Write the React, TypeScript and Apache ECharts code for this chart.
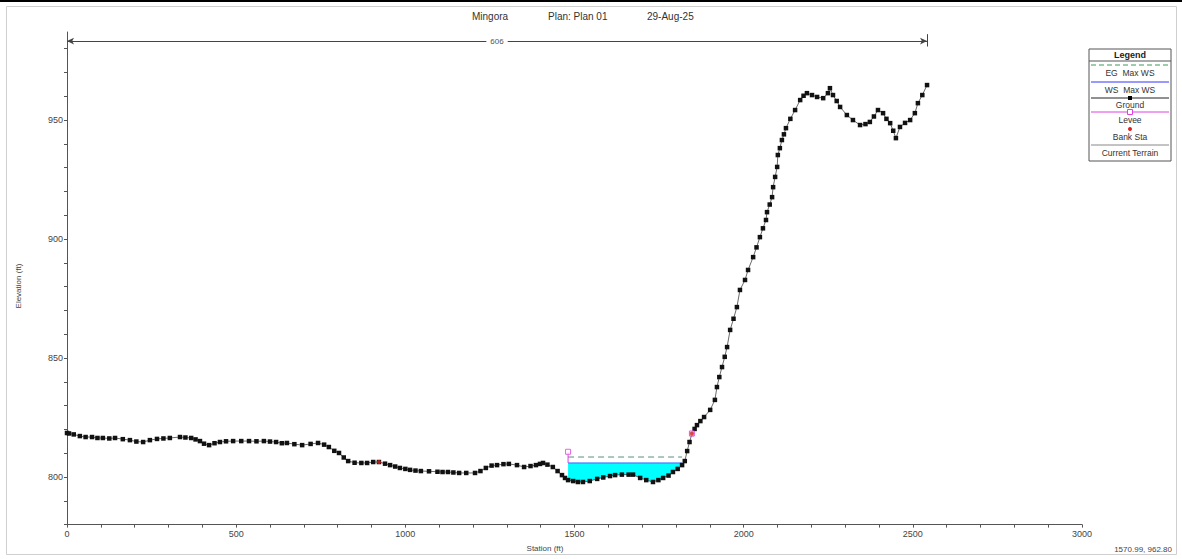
import React, { useEffect, useRef } from "react";
import * as echarts from "echarts";

// ---- data ----
const groundStation = [
  0, 6, 20, 38, 55, 74, 90, 106, 125, 142, 165, 186, 205, 225, 245, 266, 285, 304, 334, 350,
  367, 380, 393, 405, 420, 436, 452, 470, 491, 515, 538, 560, 582, 600, 618, 635, 650, 672, 695, 720,
  742, 760, 774, 790, 804, 818, 831, 850, 870, 887, 905, 922, 940, 955, 970, 984, 1000, 1014, 1030, 1046,
  1070, 1095, 1110, 1126, 1142, 1159, 1180, 1206, 1222, 1238, 1255, 1271, 1290, 1306, 1330, 1351, 1370, 1386, 1398, 1407,
  1420, 1436, 1450, 1463, 1472, 1481, 1496, 1510, 1525, 1545, 1567, 1585, 1605, 1620, 1640, 1660, 1673, 1694, 1712, 1732,
  1748, 1762, 1778, 1791, 1805, 1818, 1826, 1833, 1840, 1847, 1855, 1862, 1872, 1883, 1901, 1915, 1921, 1928, 1936, 1944,
  1951, 1960, 1970, 1980, 1989, 2004, 2013, 2028, 2038, 2048, 2057, 2066, 2069, 2077, 2084, 2087, 2093, 2099, 2101, 2107,
  2113, 2119, 2125, 2138, 2152, 2167, 2177, 2187, 2202, 2217, 2235, 2249, 2255, 2264, 2275, 2285, 2305, 2323, 2344, 2360,
  2373, 2385, 2397, 2412, 2422, 2433, 2442, 2450, 2462, 2477, 2492, 2506, 2515, 2528, 2542,
];
const groundElev = [
  818.5, 818.3, 817.9, 817.2, 816.8, 816.8, 816.4, 816.4, 816.2, 816.4, 815.9, 815.5, 814.9, 814.7, 815.5, 816.0, 816.2, 816.4, 816.8, 816.6,
  816.4, 815.8, 815.1, 814.0, 813.4, 814.2, 814.7, 815.0, 815.1, 815.1, 815.1, 815.0, 815.1, 814.9, 814.7, 814.2, 814.3, 813.8, 813.4, 813.9,
  814.3, 813.6, 812.6, 811.0, 810.1, 808.2, 806.7, 806.0, 805.9, 805.9, 806.3, 806.3, 805.6, 805.0, 804.4, 803.8, 803.4, 803.0, 802.7, 802.5,
  802.4, 802.2, 802.1, 802.1, 801.9, 801.7, 801.7, 801.7, 802.5, 803.8, 804.8, 805.0, 805.4, 805.5, 805.0, 804.2, 804.6, 805.0, 805.5, 805.9,
  805.2, 804.2, 802.5, 800.8, 799.6, 798.7, 798.3, 797.9, 797.9, 798.3, 799.2, 799.8, 800.4, 800.8, 801.0, 801.0, 801.0, 799.6, 798.7, 797.9,
  798.7, 799.6, 800.6, 802.1, 803.4, 805.0, 806.7, 810.9, 814.7, 818.1, 820.2, 821.8, 823.5, 825.2, 828.2, 832.4, 837.8, 842.0, 846.2, 850.5,
  854.6, 861.8, 866.5, 871.4, 878.6, 882.8, 887.0, 892.4, 896.5, 900.8, 904.5, 908.0, 911.3, 914.5, 917.6, 921.8, 926.1, 930.3, 935.3, 938.2,
  941.6, 944.0, 946.6, 950.5, 954.2, 958.4, 960.2, 961.3, 960.5, 959.7, 959.2, 961.3, 963.4, 960.5, 958.0, 955.5, 952.1, 950.0, 947.9, 948.3,
  949.2, 951.5, 954.2, 952.9, 950.5, 948.7, 945.5, 942.4, 947.1, 948.8, 950.0, 952.9, 957.1, 960.5, 964.7,
];

const wsElev = 805.9; // WS Max WS
const egElev = 808.4; // EG Max WS
const wsStart = 1481;
const wsEnd = 1818;
const leveeStation = [1481, 1847];
const leveeElev = [810.6, 818.3];
const bankStation = [922, 1847];
const bankElev = [806.3, 818.3];
const xTicks = [0, 500, 1000, 1500, 2000, 2500, 3000];
const yLabelValues = [800, 850, 900, 950];
const yTickValues = [780, 790, 800, 810, 820, 830, 840, 850, 860, 870, 880, 890, 900, 910, 920, 930, 940, 950, 960, 970, 980];
const reachLengthLabel = "606";
const reachEnd = 2542;
const reachElev = 983.2;
const cursorText = "1570.99, 962.80";

const FONT = "'Liberation Sans', Arial, sans-serif";

export default function App() {
  const ref = useRef<HTMLDivElement>(null);

  useEffect(() => {
    if (!ref.current) return;
    const chart = echarts.init(ref.current, null, { renderer: "svg" });

    const ground = groundStation.map((s, i) => [s, groundElev[i]]);
    const inside = ground.filter((p) => p[0] > wsStart && p[0] < wsEnd).reverse();
    const waterPoly = [[wsStart, wsElev], [wsEnd, wsElev], ...inside, [wsStart, 798.7]];

    const lx = 1089;
    const lw = 82;
    const cx = lx + lw / 2;
    const legendGraphics: any[] = [
      { type: "rect", shape: { x: lx, y: 49, width: lw, height: 112 }, style: { fill: "#fff", stroke: "#555", lineWidth: 1 } },
      { type: "text", x: cx, y: 55, style: { text: "Legend", font: `bold 9px ${FONT}`, fill: "#222", align: "center", verticalAlign: "middle" } },
      { type: "line", shape: { x1: lx, y1: 61, x2: lx + lw, y2: 61 }, style: { stroke: "#555", lineWidth: 1 } },
      { type: "line", shape: { x1: lx + 2, y1: 65, x2: lx + lw - 2, y2: 65 }, style: { stroke: "#3a9a5a", lineWidth: 1, lineDash: [5, 3] } },
      { type: "text", x: cx, y: 73, style: { text: "EG  Max WS", font: `8.5px ${FONT}`, fill: "#333", align: "center", verticalAlign: "middle" } },
      { type: "line", shape: { x1: lx + 2, y1: 82, x2: lx + lw - 2, y2: 82 }, style: { stroke: "#3333ff", lineWidth: 1 } },
      { type: "text", x: cx, y: 90, style: { text: "WS  Max WS", font: `8.5px ${FONT}`, fill: "#333", align: "center", verticalAlign: "middle" } },
      { type: "line", shape: { x1: lx + 2, y1: 98, x2: lx + lw - 2, y2: 98 }, style: { stroke: "#222", lineWidth: 1 } },
      { type: "rect", shape: { x: cx - 2, y: 96, width: 4, height: 4 }, style: { fill: "#000" } },
      { type: "text", x: cx, y: 105, style: { text: "Ground", font: `8.5px ${FONT}`, fill: "#333", align: "center", verticalAlign: "middle" } },
      { type: "line", shape: { x1: lx + 2, y1: 112, x2: lx + lw - 2, y2: 112 }, style: { stroke: "#e040e0", lineWidth: 1 } },
      { type: "rect", shape: { x: cx - 2.5, y: 109.5, width: 5, height: 5 }, style: { fill: "#fff", stroke: "#e040e0", lineWidth: 1 } },
      { type: "text", x: cx, y: 120, style: { text: "Levee", font: `8.5px ${FONT}`, fill: "#333", align: "center", verticalAlign: "middle" } },
      { type: "circle", shape: { cx: cx, cy: 129, r: 2 }, style: { fill: "#e02020" } },
      { type: "text", x: cx, y: 137, style: { text: "Bank Sta", font: `8.5px ${FONT}`, fill: "#333", align: "center", verticalAlign: "middle" } },
      { type: "line", shape: { x1: lx + 2, y1: 145, x2: lx + lw - 2, y2: 145 }, style: { stroke: "#888", lineWidth: 1 } },
      { type: "text", x: cx, y: 153, style: { text: "Current Terrain", font: `8.5px ${FONT}`, fill: "#333", align: "center", verticalAlign: "middle" } },
    ];

    chart.setOption({
      animation: false,
      backgroundColor: "#fff",
      grid: { left: 67, right: 100, top: 32, bottom: 34.4 },
      xAxis: {
        type: "value",
        min: 0,
        max: 3000,
        interval: 100,
        splitLine: { show: false },
        axisLine: { lineStyle: { color: "#555", width: 1 } },
        axisTick: { show: true, length: 3, lineStyle: { color: "#555" } },
        axisLabel: {
          fontSize: 9,
          color: "#444",
          fontFamily: FONT,
          margin: 5,
          formatter: (v: number) => (xTicks.includes(v) ? String(v) : ""),
        },
      },
      yAxis: {
        type: "value",
        min: 780,
        max: 987,
        splitLine: { show: false },
        axisLine: { show: true, lineStyle: { color: "#555", width: 1 } },
        axisTick: { show: true, length: 3, lineStyle: { color: "#555" }, customValues: yTickValues },
        axisLabel: { fontSize: 9, color: "#444", fontFamily: FONT, margin: 4, customValues: yLabelValues },
      },
      graphic: [
        { type: "line", shape: { x1: 0, y1: 1, x2: 1182, y2: 1 }, style: { stroke: "#000", lineWidth: 2 } },
        { type: "rect", shape: { x: 6.5, y: 6.5, width: 1170, height: 548 }, style: { fill: "none", stroke: "#cfcfcf", lineWidth: 1 } },
        { type: "text", x: 472, y: 16, style: { text: "Mingora", font: `10px ${FONT}`, fill: "#333", verticalAlign: "middle" } },
        { type: "text", x: 548, y: 16, style: { text: "Plan: Plan 01", font: `10px ${FONT}`, fill: "#333", verticalAlign: "middle" } },
        { type: "text", x: 647, y: 16, style: { text: "29-Aug-25", font: `10px ${FONT}`, fill: "#333", verticalAlign: "middle" } },
        { type: "text", x: 18, y: 286, rotation: Math.PI / 2, style: { text: "Elevation (ft)", font: `8px ${FONT}`, fill: "#444", align: "center", verticalAlign: "middle" } },
        { type: "text", x: 545, y: 548, style: { text: "Station (ft)", font: `8px ${FONT}`, fill: "#444", align: "center", verticalAlign: "middle" } },
        { type: "text", x: 1172, y: 549, style: { text: cursorText, font: `8px ${FONT}`, fill: "#444", align: "right", verticalAlign: "middle" } },
        ...legendGraphics,
      ],
      series: [
        {
          type: "custom",
          name: "Water",
          data: waterPoly,
          encode: { x: 0, y: 1 },
          z: 1,
          silent: true,
          renderItem: (params: any, api: any) => {
            if (params.dataIndex !== 0) return null;
            const pts = waterPoly.map((p) => api.coord(p));
            return { type: "polygon", shape: { points: pts }, style: { fill: "#00ffff", stroke: "none" } };
          },
        },
        {
          type: "line",
          name: "EG Max WS",
          data: [[wsStart, egElev], [wsEnd, egElev]],
          symbol: "none",
          z: 2,
          lineStyle: { color: "#5a8f80", width: 1, type: [6, 4] },
        },
        {
          type: "line",
          name: "WS Max WS",
          data: [[wsStart, wsElev], [wsEnd, wsElev]],
          symbol: "none",
          z: 2,
          lineStyle: { color: "#2a6cff", width: 1 },
        },
        {
          type: "line",
          name: "Levee",
          data: [[wsStart, wsElev], [leveeStation[0], leveeElev[0]]],
          symbol: "none",
          z: 2,
          lineStyle: { color: "#e040e0", width: 1 },
        },
        {
          type: "line",
          name: "Ground",
          data: ground,
          z: 3,
          symbol: "rect",
          symbolSize: 4.5,
          showAllSymbol: true,
          itemStyle: { color: "#111" },
          lineStyle: { color: "#444", width: 0.8 },
        },
        {
          type: "scatter",
          name: "Levee pts",
          data: leveeStation.map((s, i) => [s, leveeElev[i]]),
          symbol: "rect",
          symbolSize: 5,
          z: 4,
          itemStyle: { color: "#fff", borderColor: "#e040e0", borderWidth: 1 },
        },
        {
          type: "scatter",
          name: "Bank Sta",
          data: bankStation.map((s, i) => [s, bankElev[i]]),
          symbol: "circle",
          symbolSize: 4,
          z: 5,
          itemStyle: { color: "#e02020" },
        },
        {
          type: "line",
          name: "Reach",
          data: [],
          markLine: {
            silent: true,
            symbol: ["none", "none"],
            lineStyle: { color: "#444", width: 1, type: "solid" },
            label: { show: false },
            data: [
              [
                { coord: [0, reachElev], symbol: "arrow", symbolSize: [5, 7], symbolRotate: 90 },
                {
                  coord: [reachEnd, reachElev],
                  symbol: "arrow",
                  symbolSize: [5, 7],
                  label: {
                    show: true,
                    position: "middle",
                    formatter: reachLengthLabel,
                    fontSize: 8,
                    color: "#555",
                    fontFamily: FONT,
                    backgroundColor: "#fff",
                    padding: [0, 4],
                    distance: -4,
                  },
                },
              ],
              [
                { coord: [reachEnd, reachElev - 2.3], symbol: "none" },
                { coord: [reachEnd, reachElev + 2.9], symbol: "none" },
              ],
            ],
          },
        },
      ],
    });

    return () => chart.dispose();
  }, []);

  return (
    <div
      ref={ref}
      style={{ position: "fixed", left: 0, top: 0, width: 1182, height: 559, background: "#fff" }}
    />
  );
}
